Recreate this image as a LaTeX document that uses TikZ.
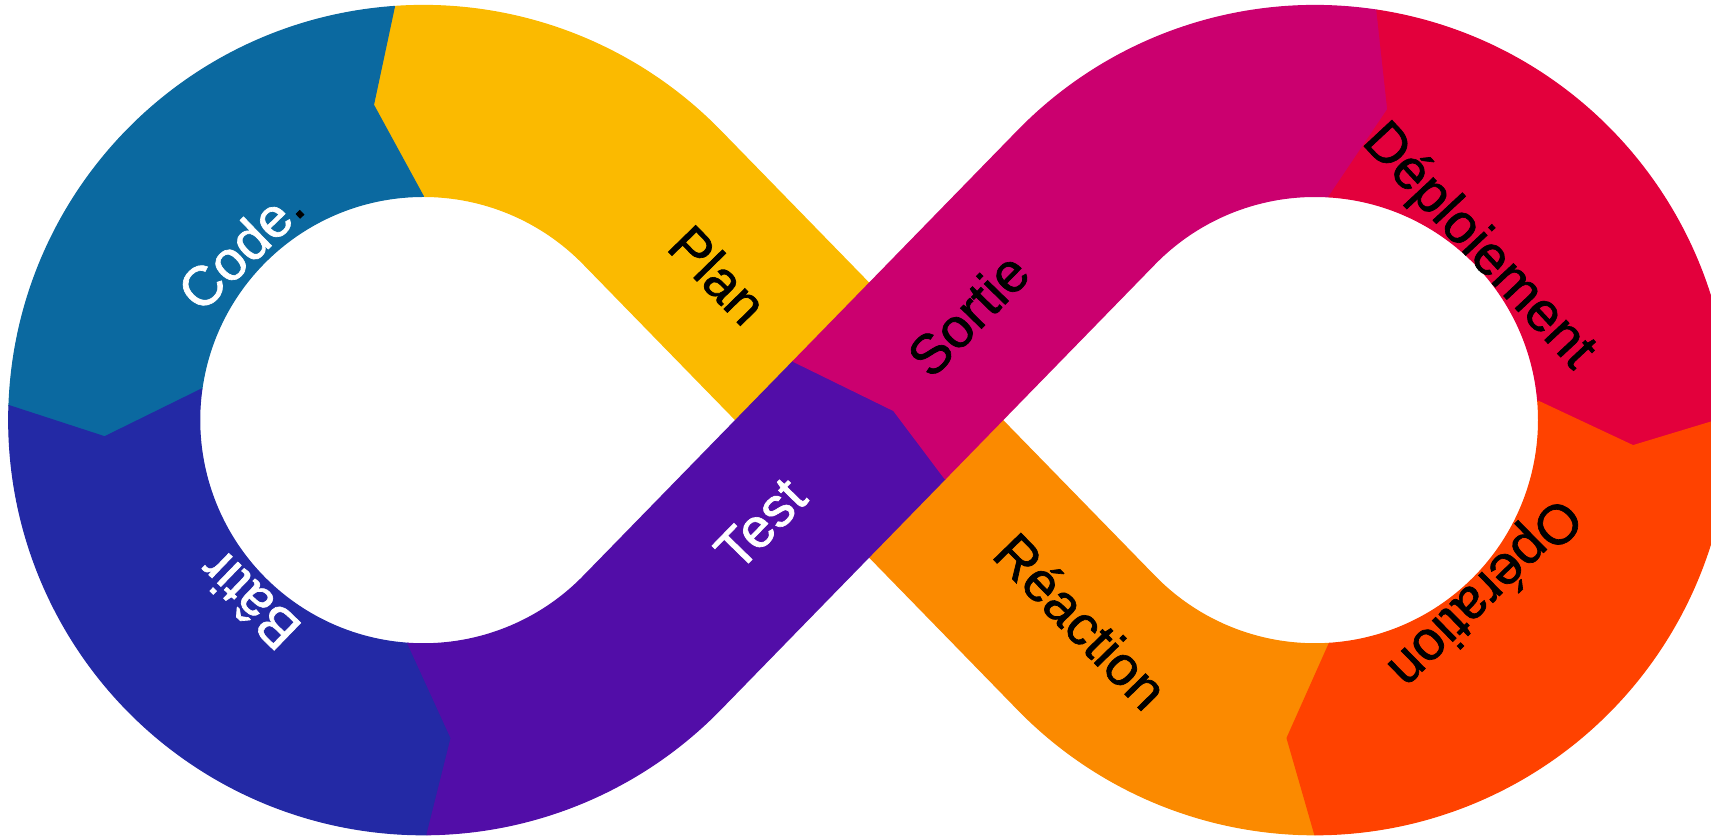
\documentclass[tikz,border=0pt]{standalone}
\usepackage{fontspec}
\setmainfont{Liberation Sans}
\newfontfamily\lblfont[FakeBold=1.2]{Liberation Sans}
\usepackage{xcolor}
\usepackage{tikz}
\usetikzlibrary{calc}

\definecolor{codecol}{RGB}{11,105,160}
\definecolor{plancol}{RGB}{251,186,0}
\definecolor{batircol}{RGB}{35,41,165}
\definecolor{testcol}{RGB}{82,13,168}
\definecolor{sortiecol}{RGB}{203,0,111}
\definecolor{deploicol}{RGB}{227,0,60}
\definecolor{opercol}{RGB}{255,66,0}
\definecolor{reaccol}{RGB}{251,138,0}

\begin{document}
\begin{tikzpicture}[x=0.1mm,y=0.1mm,
  seg/.style={fill=#1,draw=#1,line width=.3pt,line join=round},
  lbl/.style={font=\lblfont\fontsize{14.5}{17}\selectfont,inner sep=0pt}]
\def\ro{380}
  \def\ri{205}
\def\rc{292.5}
\coordinate (L) at (-408.5,0);
\coordinate (R) at (408.5,0);
\useasboundingbox (-796.5,-382) rectangle (771.5,385);
\clip (-796.5,-382) rectangle (771.5,385);
      % crossing bands first, the test band goes over them
      \filldraw[seg=plancol] (62.65,61.07) -- ($(L)+(44.27:\ro)$) arc[start angle=44.27,end angle=94,radius=\ro]
        -- ($(L)+(99:\rc)$) -- ($(L)+(90:\ri)$) arc[start angle=90,end angle=44.27,radius=\ri] -- (-62.65,-61.07) -- cycle;
      \filldraw[seg=reaccol] ($(R)+(-90:\ro)$) arc[start angle=-90,end angle=-135.73,radius=\ro] -- (-62.65,-61.07)
        -- (62.65,61.07) -- ($(R)+(-135.73:\ri)$) arc[start angle=-135.73,end angle=-86.3,radius=\ri] -- ($(R)+(-95:\rc)$) -- cycle;
      \filldraw[seg=codecol] ($(L)+(94:\ro)$) arc[start angle=94,end angle=178,radius=\ro] -- ($(L)+(183:\rc)$)
        -- ($(L)+(172:\ri)$) arc[start angle=172,end angle=90,radius=\ri] -- ($(L)+(99:\rc)$) -- cycle;
      \filldraw[seg=batircol] ($(L)+(178:\ro)$) arc[start angle=178,end angle=270.5,radius=\ro] -- ($(L)+(275:\rc)$)
        -- ($(L)+(266:\ri)$) arc[start angle=266,end angle=172,radius=\ri] -- ($(L)+(183:\rc)$) -- cycle;
      \filldraw[seg=testcol] ($(L)+(270.5:\ro)$) arc[start angle=270.5,end angle=315.73,radius=\ro] -- (69.63,-53.91)
        -- (22.51,8.77) -- (-69.63,53.91) -- ($(L)+(315.73:\ri)$) arc[start angle=315.73,end angle=266,radius=\ri] -- ($(L)+(275:\rc)$) -- cycle;
      \filldraw[seg=sortiecol] (-69.63,53.91) -- (22.51,8.77) -- (69.63,-53.91) -- ($(R)+(135.73:\ri)$) arc[start angle=135.73,end angle=86.4,radius=\ri]
        -- ($(R)+(76.8:\rc)$) -- ($(R)+(81.4:\ro)$) arc[start angle=81.4,end angle=135.73,radius=\ro] -- cycle;
      \filldraw[seg=deploicol] ($(R)+(81.4:\ro)$) arc[start angle=81.4,end angle=0.5,radius=\ro] -- ($(R)+(-4.6:\rc)$)
        -- ($(R)+(4.9:\ri)$) arc[start angle=4.9,end angle=86.4,radius=\ri] -- ($(R)+(76.8:\rc)$) -- cycle;
      \filldraw[seg=opercol] ($(R)+(0.5:\ro)$) arc[start angle=0.5,end angle=-90,radius=\ro] -- ($(R)+(-95:\rc)$)
        -- ($(R)+(-86.3:\ri)$) arc[start angle=-86.3,end angle=4.9,radius=\ri] -- ($(R)+(-4.6:\rc)$) -- cycle;
      % labels
      \node[lbl,text=white,rotate=44] (code) at ($(L)+(136.8:230)$) {Code\textcolor{black}{.}};
      \node[lbl,rotate=-45.73] (plan) at (-138.3,133.3) {Plan};
      \node[lbl,rotate=45.73] (sortie) at (90.5,97) {Sortie};
      \node[lbl,rotate=-47] (deploi) at ($(R)+(46.7:218)$) {D\'eploiement};
      \node[lbl,rotate=224.4] (oper) at ($(R)+(-45.6:220)$) {Op\'eration};
      \node[lbl,rotate=-45.73] (reac) at (194.5,-184) {R\'eaction};
      \node[lbl,text=white,rotate=45.73] (test) at (-99.5,-95) {Test};
      \node[lbl,text=white,rotate=136] (batir) at ($(L)+(226:230)$) {B\^atir};
\end{tikzpicture}
\end{document}
